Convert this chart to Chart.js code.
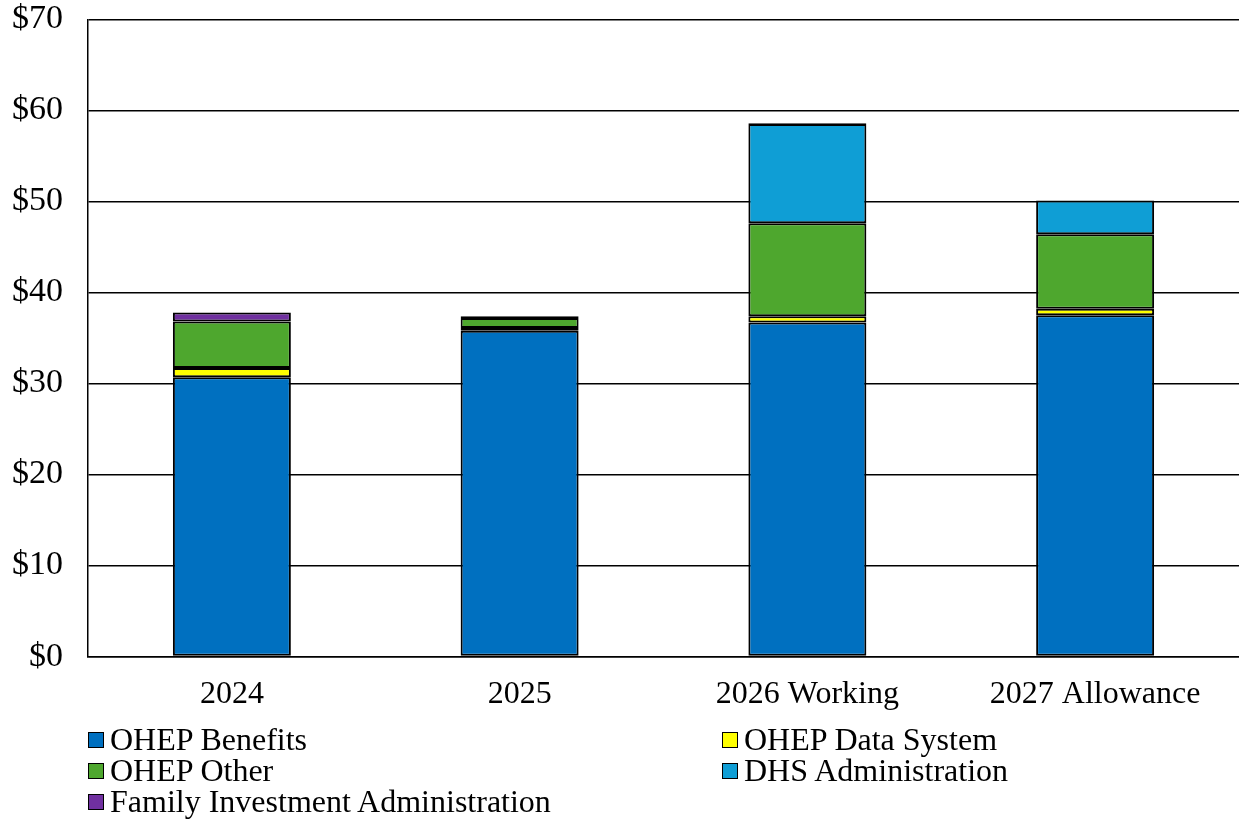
<!DOCTYPE html>
<html>
<head>
<meta charset="utf-8">
<script src="https://cdn.jsdelivr.net/npm/chart.js@4"></script>
<style>
  html, body { margin: 0; padding: 0; background: #fff; overflow: hidden; }
  #wrap { position: relative; width: 1239px; height: 820px; overflow: hidden; }
  #chart { position: absolute; left: 0; top: -26px; }
  #legend {
    position: absolute; left: 88px; top: 724px; width: 1140px;
    display: grid; grid-template-columns: 634px auto; row-gap: 0px;
    font-family: "Liberation Serif", "Times New Roman", serif; font-size: 32px; color: #000;
  }
  .item { display: flex; align-items: center; height: 31px; white-space: nowrap; }
  .box { width: 14px; height: 14px; border: 1.5px solid #000; margin-right: 6px; flex: none; }
</style>
</head>
<body>
<div id="wrap">
  <canvas id="chart" width="1239" height="846"></canvas>
  <div id="legend"></div>
</div>
<script>
const categories = ['2024', '2025', '2026 Working', '2027 Allowance'];

const ohepBenefits = [30.7, 35.8, 36.7, 37.5];
const ohepDataSystem = [1.0, 0.3, 0.7, 0.7];
const ohepOther = [5.1, 1.1, 10.2, 8.2];
const dhsAdministration = [0, 0, 10.9, 3.7];
const familyInvestmentAdmin = [1.0, 0.2, 0.1, 0];

const yTicks = [0, 10, 20, 30, 40, 50, 60, 70];

const COLORS = {
    benefits: '#0070C0',
    dataSystem: '#FFFF00',
    other: '#4EA72E',
    dhs: '#0F9ED5',
    fia: '#7030A0'
};

const FONT = { family: '"Liberation Serif", "Times New Roman", serif', size: 32 };
const Y_FONT = { family: '"Liberation Serif", "Times New Roman", serif', size: 34 };

function series(label, data, color) {
    return {
        label, data,
        backgroundColor: color,
        borderColor: '#000',
        borderWidth: 2,
        borderSkipped: false,
        barPercentage: 1,
        categoryPercentage: 0.41
    };
}

const datasets = [
    series('OHEP Benefits', ohepBenefits, COLORS.benefits),
    series('OHEP Data System', ohepDataSystem, COLORS.dataSystem),
    series('OHEP Other', ohepOther, COLORS.other),
    series('DHS Administration', dhsAdministration, COLORS.dhs),
    series('Family Investment Administration', familyInvestmentAdmin, COLORS.fia)
];

const chart = new Chart(document.getElementById('chart'), {
    type: 'bar',
    data: { labels: categories, datasets },
    options: {
        responsive: false,
        animation: false,
        layout: { padding: { top: 0, right: 0, left: -13, bottom: 95 } },
        plugins: { legend: { display: false }, tooltip: { enabled: false } },
        scales: {
            x: {
                stacked: true,
                grid: { display: false },
                border: { display: true, color: '#000', width: 1.5 },
                ticks: { color: '#000', font: FONT, padding: 11 }
            },
            y: {
                stacked: true,
                min: 0,
                max: 70,
                afterBuildTicks: axis => { axis.ticks = yTicks.map(v => ({ value: v })); },
                grid: { color: '#000', lineWidth: 1.5, drawTicks: false },
                border: { display: true, color: '#000', width: 1.5 },
                ticks: { color: '#000', font: Y_FONT, padding: 25, callback: v => '$' + v }
            }
        }
    }
});

const legend = document.getElementById('legend');
chart.data.datasets.forEach(ds => {
    const item = document.createElement('div');
    item.className = 'item';
    const box = document.createElement('span');
    box.className = 'box';
    box.style.background = ds.backgroundColor;
    item.appendChild(box);
    item.appendChild(document.createTextNode(ds.label));
    legend.appendChild(item);
});
</script>
</body>
</html>
